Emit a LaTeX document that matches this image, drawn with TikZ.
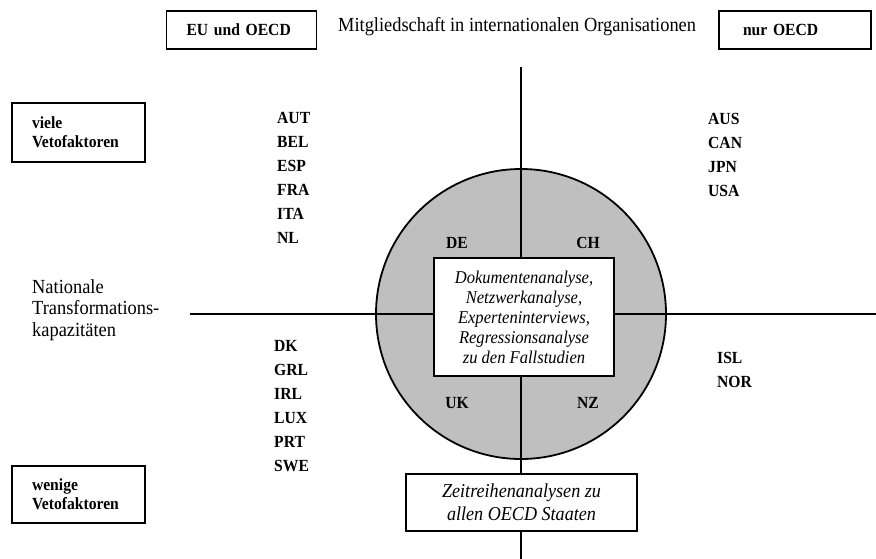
\documentclass[tikz,border=0pt]{standalone}
\usepackage{fontspec}
\setmainfont{Liberation Serif}[FakeStretch=0.92]
\usetikzlibrary{positioning}

\begin{document}
\begin{tikzpicture}[x=1pt,y=-1pt,node distance=24pt,on grid,
  land/.style={font=\fontsize{17}{19}\selectfont\bfseries,inner sep=0pt},
  kasten/.style={draw,line width=1.6pt,fill=white,font=\fontsize{17}{19}\selectfont\bfseries,
    align=left,inner xsep=20pt,inner ysep=0pt},
  methode/.style={draw,line width=1.6pt,fill=white,align=center,inner sep=0pt},
  achse/.style={line width=1.6pt}]
  \useasboundingbox (0,0) rectangle (876,559);
  % Kreis mit den Fallstudien
  \node[circle,draw,line width=1.8pt,fill=gray!50,minimum size=290pt,inner sep=0pt] (kreis) at (521,314) {};
  \coordinate (oben)   at (521,67);
  \coordinate (unten)  at (521,559);
  \coordinate (links)  at (190,314);
  \coordinate (rechts) at (876,314);
  \draw[achse] (oben) -- (unten);
  \draw[achse] (links) -- (rechts);
  \node[land] (de) at (457,243) {DE};
  \node[land] (ch) at (588,243) {CH};
  \node[land] (uk) at (457,403) {UK};
  \node[land] (nz) at (588,403) {NZ};
  \node[methode,minimum width=180pt,minimum height=118pt,
        font=\fontsize{18}{20}\selectfont\itshape] (fall) at (524,317)
        {Dokumentenanalyse,\\Netzwerkanalyse,\\Experteninterviews,\\Regressionsanalyse\\zu den Fallstudien};
  \node[methode,minimum width=231pt,minimum height=57pt,
        font=\fontsize{19.7}{23}\selectfont\itshape] (zeit) at (521.5,502.5)
        {Zeitreihenanalysen zu\\allen OECD Staaten};
  % Achsenbeschriftungen
  \node[anchor=base west,inner sep=0pt,font=\fontsize{20}{21.5}\selectfont] (mitglied) at (338,32)
        {Mitgliedschaft in internationalen Organisationen};
  \node[anchor=west,inner sep=0pt,align=left,font=\fontsize{20}{21.5}\selectfont] (kapaz) at (32,310)
        {Nationale\\Transformations-\\kapazitäten};
  \node[kasten,text width=110pt,minimum height=38pt] (euoecd) at (241.5,30) {EU und OECD};
  \node[kasten,text width=104pt,inner xsep=24pt,minimum height=38pt] (nuroecd) at (795,30) {nur OECD};
  \node[kasten,text width=93pt,minimum height=59pt] (viele) at (78.5,132.5) {viele\\Vetofaktoren};
  \node[kasten,text width=93pt,minimum height=57pt] (wenige) at (78.5,494.5) {wenige\\Vetofaktoren};
  % Laender
  \node[land,anchor=west] (aut) at (277,118) {AUT};
  \node[land] (bel) [below=of aut.west,anchor=west] {BEL};
  \node[land] (esp) [below=of bel.west,anchor=west] {ESP};
  \node[land] (fra) [below=of esp.west,anchor=west] {FRA};
  \node[land] (ita) [below=of fra.west,anchor=west] {ITA};
  \node[land] (nl)  [below=of ita.west,anchor=west] {NL};
  \node[land,anchor=west] (aus) at (708,119) {AUS};
  \node[land] (can) [below=of aus.west,anchor=west] {CAN};
  \node[land] (jpn) [below=of can.west,anchor=west] {JPN};
  \node[land] (usa) [below=of jpn.west,anchor=west] {USA};
  \node[land,anchor=west] (dk) at (274,346) {DK};
  \node[land] (grl) [below=of dk.west,anchor=west]  {GRL};
  \node[land] (irl) [below=of grl.west,anchor=west] {IRL};
  \node[land] (lux) [below=of irl.west,anchor=west] {LUX};
  \node[land] (prt) [below=of lux.west,anchor=west] {PRT};
  \node[land] (swe) [below=of prt.west,anchor=west] {SWE};
  \node[land,anchor=west] (isl) at (717,358) {ISL};
  \node[land] (nor) [below=of isl.west,anchor=west] {NOR};
\end{tikzpicture}
\end{document}
